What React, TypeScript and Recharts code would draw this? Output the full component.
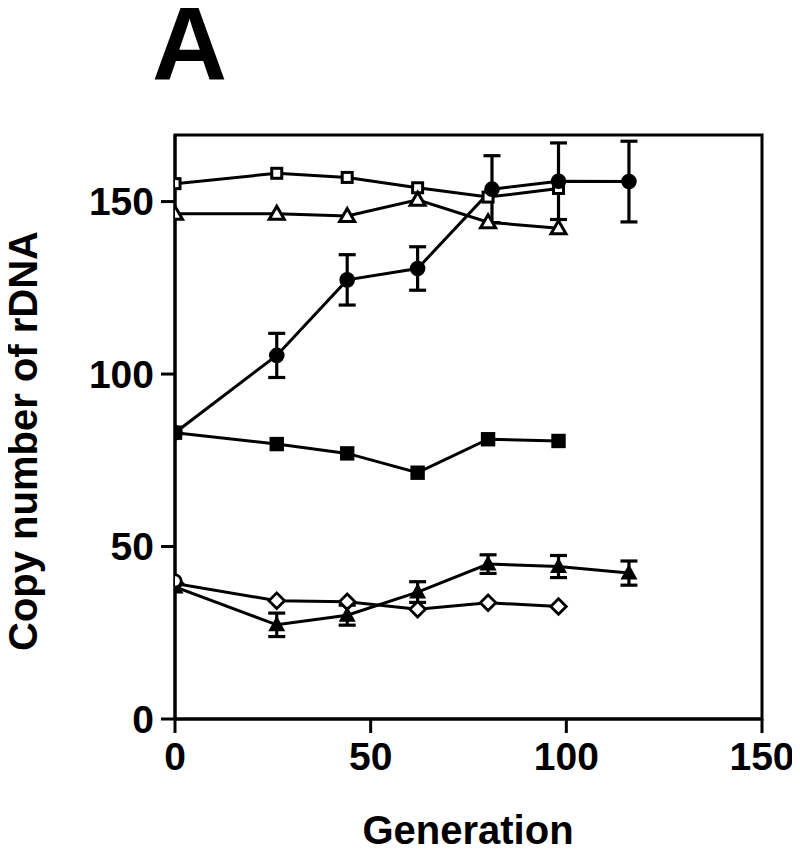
import React from 'react';
import { LineChart, Line, XAxis, YAxis, ErrorBar, ReferenceArea } from 'recharts';

const FONT = '"Liberation Sans", Arial, Helvetica, sans-serif';

// ---- data (generation vs. rDNA copy number) ----
const xTicks = [0, 50, 100, 150];
const yTicks = [0, 50, 100, 150];
const X_MAX = 150;
const Y_MAX = 169.3;

const openSquareGen = [0, 26, 44, 62, 80, 98];
const openSquareCopies = [155.2, 158.2, 157.0, 154.0, 151.3, 153.8];

const openTriangleGen = [0, 26, 44, 62, 80, 98];
const openTriangleCopies = [146.5, 146.5, 145.8, 150.5, 144.0, 142.3];

const filledCircleGen = [0, 26, 44, 62, 81, 98, 116];
const filledCircleCopies = [83.0, 105.4, 127.3, 130.6, 153.6, 155.9, 155.8];
const filledCircleErr = [0, 6.4, 7.3, 6.3, 9.7, 11.1, 11.7];

const filledSquareGen = [0, 26, 44, 62, 80, 98];
const filledSquareCopies = [83.0, 79.7, 77.0, 71.4, 81.1, 80.6];

const filledTriangleGen = [0, 26, 44, 62, 80, 98, 116];
const filledTriangleCopies = [38.3, 27.3, 30.1, 36.8, 44.9, 44.2, 42.3];
const filledTriangleErr = [0, 3.4, 2.9, 3.0, 2.7, 3.2, 3.5];

const openDiamondGen = [0, 26, 44, 62, 80, 98];
const openDiamondCopies = [39.3, 34.3, 34.0, 31.8, 33.7, 32.6];

const openCircleGen = [0];
const openCircleCopies = [40.0];

const build = (xs: number[], ys: number[], errs?: number[]) =>
  xs.map((x, i) => ({ x, y: ys[i], err: errs ? errs[i] : 0 }));

const openSquareData = build(openSquareGen, openSquareCopies);
const openTriangleData = build(openTriangleGen, openTriangleCopies);
const filledCircleData = build(filledCircleGen, filledCircleCopies, filledCircleErr);
const filledSquareData = build(filledSquareGen, filledSquareCopies);
const filledTriangleData = build(filledTriangleGen, filledTriangleCopies, filledTriangleErr);
const openDiamondData = build(openDiamondGen, openDiamondCopies);
const openCircleData = build(openCircleGen, openCircleCopies);

// ---- markers ----
const ok = (p: any) => p && typeof p.cx === 'number' && typeof p.cy === 'number' && !isNaN(p.cx) && !isNaN(p.cy);

const OpenSquare = (p: any) =>
  ok(p) ? (
    <rect key={`os-${p.index}`} x={p.cx - 5} y={p.cy - 5} width={10} height={10} fill="#fff" stroke="#000" strokeWidth={3} />
  ) : <g key={`os-${p.index}`} />;

const OpenTriangle = (p: any) =>
  ok(p) ? (
    <polygon
      key={`ot-${p.index}`}
      points={`${p.cx},${p.cy - 7.5} ${p.cx + 7.5},${p.cy + 5.5} ${p.cx - 7.5},${p.cy + 5.5}`}
      fill="#fff"
      stroke="#000"
      strokeWidth={3}
      strokeLinejoin="miter"
    />
  ) : <g key={`ot-${p.index}`} />;

const FilledCircle = (p: any) =>
  ok(p) ? <circle key={`fc-${p.index}`} cx={p.cx} cy={p.cy} r={7.8} fill="#000" /> : <g key={`fc-${p.index}`} />;

const FilledSquare = (p: any) =>
  ok(p) ? <rect key={`fs-${p.index}`} x={p.cx - 7.2} y={p.cy - 7.2} width={14.4} height={14.4} fill="#000" /> : <g key={`fs-${p.index}`} />;

const FilledTriangle = (p: any) =>
  ok(p) ? (
    <polygon
      key={`ft-${p.index}`}
      points={`${p.cx},${p.cy - 9} ${p.cx + 8.5},${p.cy + 6.5} ${p.cx - 8.5},${p.cy + 6.5}`}
      fill="#000"
    />
  ) : <g key={`ft-${p.index}`} />;

const OpenDiamond = (p: any) =>
  ok(p) ? (
    <polygon
      key={`od-${p.index}`}
      points={`${p.cx},${p.cy - 7.8} ${p.cx + 7.8},${p.cy} ${p.cx},${p.cy + 7.8} ${p.cx - 7.8},${p.cy}`}
      fill="#fff"
      stroke="#000"
      strokeWidth={2.8}
    />
  ) : <g key={`od-${p.index}`} />;

const OpenCircle = (p: any) =>
  ok(p) ? <circle key={`oc-${p.index}`} cx={p.cx} cy={p.cy} r={6.2} fill="#fff" stroke="#000" strokeWidth={2.8} /> : <g key={`oc-${p.index}`} />;

const tickStyle = { fill: '#000', fontSize: 39, fontWeight: 'bold' as const, fontFamily: FONT };
const LINE_W = 3;

export default function App() {
  return (
    <div style={{ position: 'relative', width: 792, height: 848 }}>
      <LineChart width={792} height={848} margin={{ top: 127, right: 38, bottom: 77, left: 87 }}>
        <XAxis
          type="number"
          dataKey="x"
          domain={[0, X_MAX]}
          ticks={xTicks}
          allowDataOverflow
          height={60}
          tickSize={14}
          tickMargin={9}
          tick={tickStyle}
          axisLine={{ stroke: '#000', strokeWidth: 3 }}
          tickLine={{ stroke: '#000', strokeWidth: 3 }}
        />
        <YAxis
          type="number"
          domain={[0, Y_MAX]}
          ticks={yTicks}
          allowDataOverflow
          width={80}
          tickSize={14}
          tickMargin={7}
          tick={tickStyle}
          axisLine={{ stroke: '#000', strokeWidth: 3 }}
          tickLine={{ stroke: '#000', strokeWidth: 3 }}
        />
        <ReferenceArea x1={0} x2={X_MAX} y1={0} y2={Y_MAX} fill="none" fillOpacity={0} stroke="#000" strokeWidth={3} />

        <Line data={openSquareData} dataKey="y" type="linear" stroke="#000" strokeWidth={LINE_W} dot={OpenSquare} activeDot={false} isAnimationActive={false} />
        <Line data={openTriangleData} dataKey="y" type="linear" stroke="#000" strokeWidth={LINE_W} dot={OpenTriangle} activeDot={false} isAnimationActive={false} />
        <Line data={filledSquareData} dataKey="y" type="linear" stroke="#000" strokeWidth={LINE_W} dot={FilledSquare} activeDot={false} isAnimationActive={false} />
        <Line data={openDiamondData} dataKey="y" type="linear" stroke="#000" strokeWidth={LINE_W} dot={OpenDiamond} activeDot={false} isAnimationActive={false} />
        <Line data={filledTriangleData} dataKey="y" type="linear" stroke="#000" strokeWidth={LINE_W} dot={FilledTriangle} activeDot={false} isAnimationActive={false}>
          <ErrorBar dataKey="err" direction="y" width={8.5} stroke="#000" strokeWidth={3.2} isAnimationActive={false} />
        </Line>
        <Line data={openCircleData} dataKey="y" type="linear" stroke="#000" strokeWidth={LINE_W} dot={OpenCircle} activeDot={false} isAnimationActive={false} />
        <Line data={filledCircleData} dataKey="y" type="linear" stroke="#000" strokeWidth={LINE_W} dot={FilledCircle} activeDot={false} isAnimationActive={false}>
          <ErrorBar dataKey="err" direction="y" width={8.5} stroke="#000" strokeWidth={3.2} isAnimationActive={false} />
        </Line>
      </LineChart>
      <svg
        width={792}
        height={848}
        style={{ position: 'absolute', left: 0, top: 0, pointerEvents: 'none', overflow: 'visible' }}
      >
        <text x={181.5} y={71} textAnchor="middle" fontFamily={FONT} fontWeight="bold" fontSize={104} fill="#000">
          A
        </text>
        <text
          transform="translate(29,433) rotate(-90)"
          textAnchor="middle"
          fontFamily={FONT}
          fontWeight="bold"
          fontSize={40}
          fill="#000"
        >
          Copy number of rDNA
        </text>
        <text x={460} y={836} textAnchor="middle" fontFamily={FONT} fontWeight="bold" fontSize={40} fill="#000">
          Generation
        </text>
      </svg>
    </div>
  );
}
